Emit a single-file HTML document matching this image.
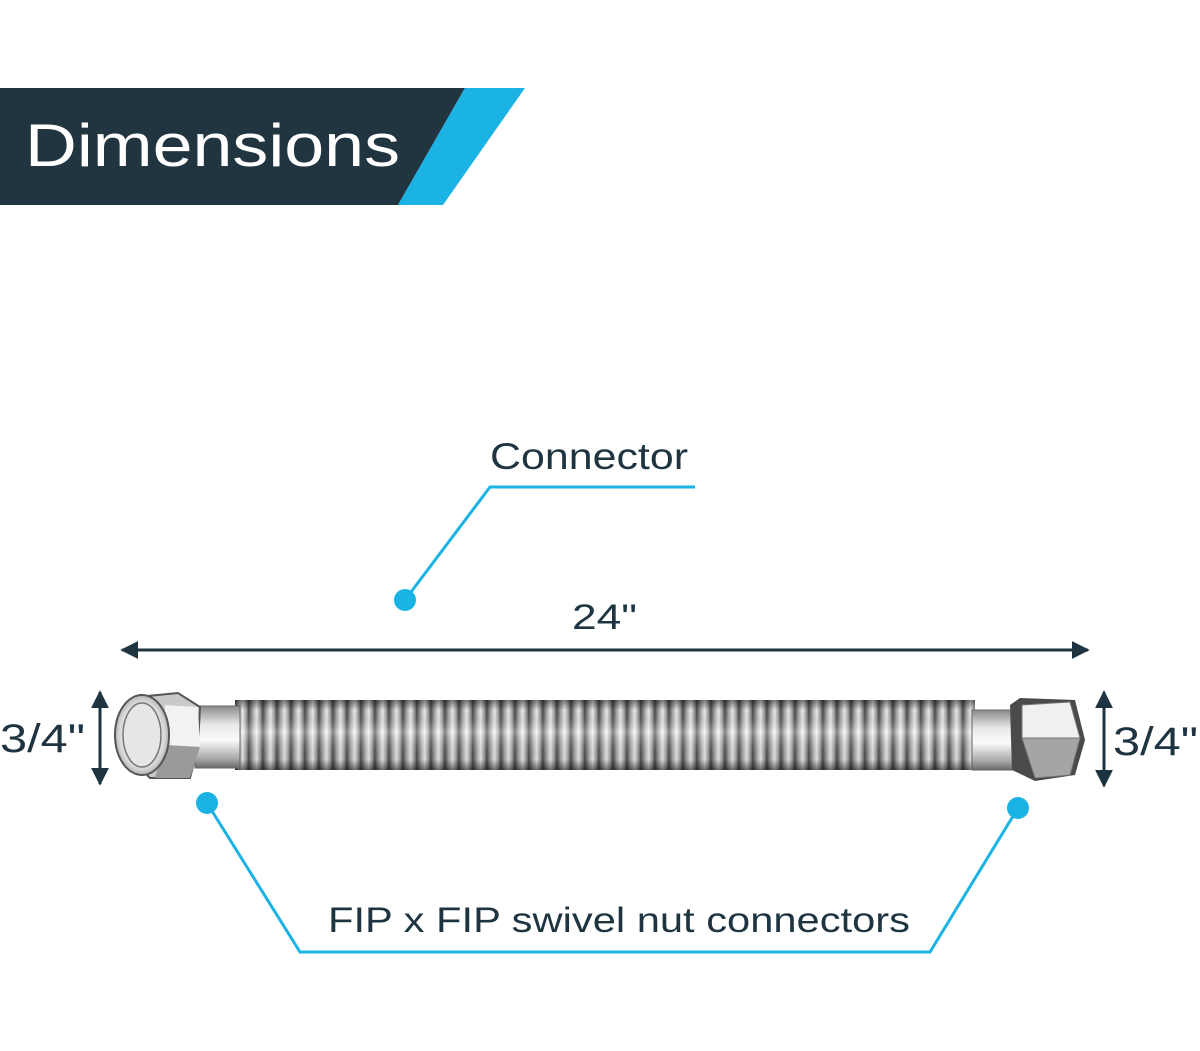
<!DOCTYPE html>
<html><head><meta charset="utf-8"><style>
html,body{margin:0;padding:0;background:#fff;}
svg{display:block;}
text{font-family:"Liberation Sans",sans-serif;}
</style></head><body>
<svg width="1200" height="1051" viewBox="0 0 1200 1051" xmlns="http://www.w3.org/2000/svg">
<defs>
<linearGradient id="rib" x1="0" y1="0" x2="1" y2="0">
<stop offset="0" stop-color="#555"/><stop offset="0.3" stop-color="#bbb"/><stop offset="0.55" stop-color="#f6f6f6"/><stop offset="0.8" stop-color="#aaa"/><stop offset="1" stop-color="#4a4a4a"/>
</linearGradient>
<pattern id="ribs" x="235" y="0" width="14" height="100" patternUnits="userSpaceOnUse">
<rect width="14" height="100" fill="url(#rib)"/>
</pattern>
<linearGradient id="vshade" x1="0" y1="0" x2="0" y2="1">
<stop offset="0" stop-color="#000" stop-opacity="0.5"/><stop offset="0.15" stop-color="#000" stop-opacity="0.05"/><stop offset="0.45" stop-color="#fff" stop-opacity="0.3"/><stop offset="0.85" stop-color="#000" stop-opacity="0.1"/><stop offset="1" stop-color="#000" stop-opacity="0.55"/>
</linearGradient>
<linearGradient id="tube" x1="0" y1="0" x2="0" y2="1">
<stop offset="0" stop-color="#8a8a8a"/><stop offset="0.3" stop-color="#e8e8e8"/><stop offset="0.55" stop-color="#fafafa"/><stop offset="0.85" stop-color="#a8a8a8"/><stop offset="1" stop-color="#6a6a6a"/>
</linearGradient>
<radialGradient id="face" cx="0.5" cy="0.5" r="0.6">
<stop offset="0" stop-color="#fff"/><stop offset="0.7" stop-color="#d8d8d8"/><stop offset="1" stop-color="#888"/>
</radialGradient>
<marker id="ah" viewBox="0 0 10 10" refX="9" refY="5" markerWidth="6" markerHeight="6" orient="auto-start-reverse"><path d="M0,0 L10,5 L0,10 z" fill="#1f3441"/></marker>
</defs>

<polygon points="0,88 465,88 398,205 0,205" fill="#213541"/>
<polygon points="465,88 525,88 443,205 398,205" fill="#1bb3e3"/>
<text x="25" y="166" font-size="60" fill="#fff" textLength="375" lengthAdjust="spacingAndGlyphs">Dimensions</text>

<text x="490" y="469" font-size="37" fill="#1f3441" textLength="198" lengthAdjust="spacingAndGlyphs">Connector</text>
<polyline points="695,487 490,487 405,600" fill="none" stroke="#1bb3e3" stroke-width="3"/>
<circle cx="405" cy="600" r="11" fill="#1bb3e3"/>

<text x="572" y="629" font-size="35" fill="#1f3441" textLength="65" lengthAdjust="spacingAndGlyphs">24"</text>
<line x1="122" y1="650" x2="1088" y2="650" stroke="#1f3441" stroke-width="3" marker-start="url(#ah)" marker-end="url(#ah)"/>

<line x1="100" y1="692" x2="100" y2="784" stroke="#1f3441" stroke-width="3" marker-start="url(#ah)" marker-end="url(#ah)"/>
<text x="0" y="752" font-size="40" fill="#1f3441" textLength="85" lengthAdjust="spacingAndGlyphs">3/4"</text>
<line x1="1104" y1="692" x2="1104" y2="786" stroke="#1f3441" stroke-width="3" marker-start="url(#ah)" marker-end="url(#ah)"/>
<text x="1113" y="755" font-size="40" fill="#1f3441" textLength="85" lengthAdjust="spacingAndGlyphs">3/4"</text>

<rect x="235" y="700" width="740" height="70" fill="url(#ribs)"/>
<rect x="235" y="700" width="740" height="70" fill="url(#vshade)"/>
<rect x="195" y="706" width="45" height="62" fill="url(#tube)" stroke="#666" stroke-width="1"/>
<rect x="972" y="710" width="45" height="60" fill="url(#tube)" stroke="#666" stroke-width="1"/>
<polygon points="137,697 178,693 200,707 198,747 190,778 150,778 132,760" fill="#c9c9c9" stroke="#555" stroke-width="2"/>
<polygon points="165,705 198,707 200,747 165,745" fill="#f2f2f2"/>
<polygon points="165,745 200,747 190,778 155,778" fill="#9a9a9a"/>
<ellipse cx="142" cy="735" rx="27" ry="40" fill="url(#face)" stroke="#555" stroke-width="2"/>
<ellipse cx="142" cy="735" rx="19" ry="32" fill="#e6e6e6" stroke="#777" stroke-width="1.5"/>
<polygon points="1010,705 1020,698 1075,700 1085,740 1075,775 1035,781 1012,770" fill="#4a4a4a"/>
<polygon points="1022,705 1070,702 1080,738 1022,738" fill="#f0f0f0" stroke="#777"/>
<polygon points="1022,738 1080,738 1070,775 1035,778" fill="#a5a5a5" stroke="#777"/>

<circle cx="207" cy="803" r="11" fill="#1bb3e3"/>
<circle cx="1018" cy="808" r="11" fill="#1bb3e3"/>
<polyline points="207,803 300,952 930,952 1018,808" fill="none" stroke="#1bb3e3" stroke-width="3"/>
<text x="328" y="932" font-size="35" fill="#1f3441" textLength="582" lengthAdjust="spacingAndGlyphs">FIP x FIP swivel nut connectors</text>
</svg>
</body></html>
